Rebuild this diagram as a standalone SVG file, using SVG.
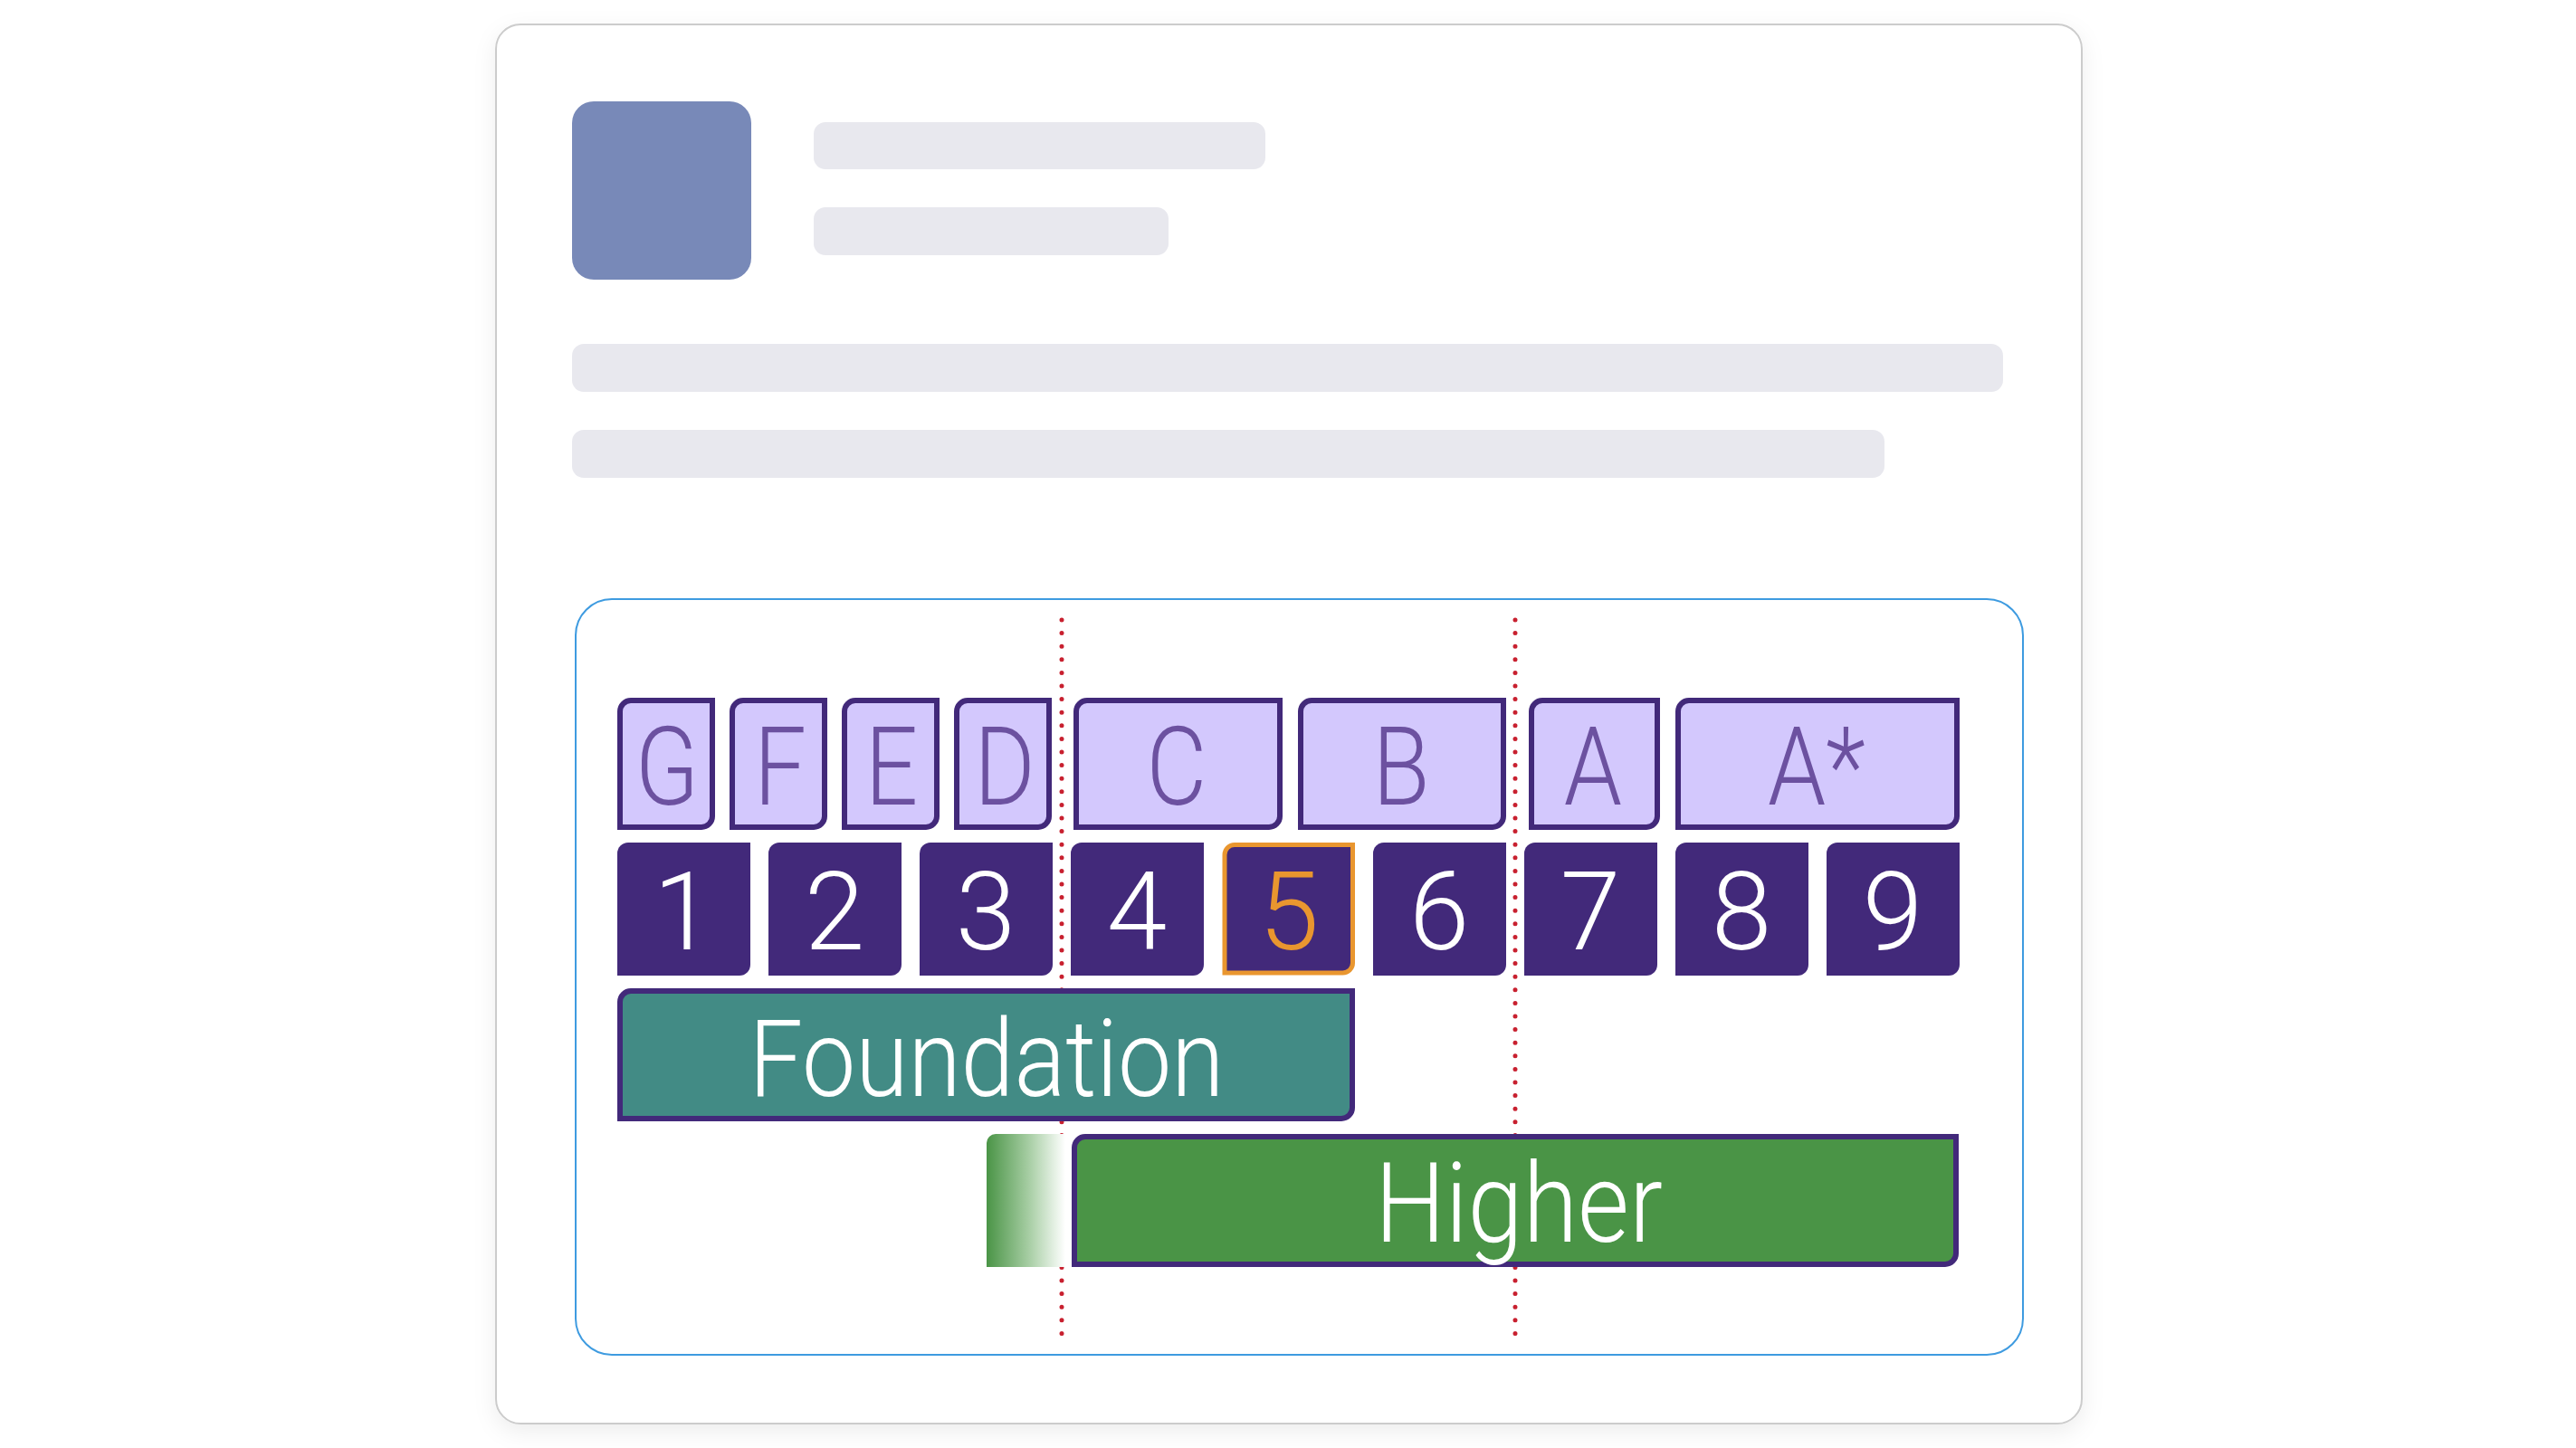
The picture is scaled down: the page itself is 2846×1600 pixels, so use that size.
<svg xmlns="http://www.w3.org/2000/svg" width="2846" height="1600" viewBox="0 0 2846 1600">
<defs>
<style>
.bar{fill:#E8E8EE}
.lbox{fill:#D3C8FD;stroke:#42297A;stroke-width:6}
.ltxt{font-family:Roboto,"Liberation Sans",sans-serif;font-weight:300;font-size:121px;fill:#6C51A0;text-anchor:middle}
.nbox{fill:#42297A}
.ntxt{font-family:Roboto,"Liberation Sans",sans-serif;font-weight:300;font-size:120px;fill:#FFFFFF;text-anchor:middle}
.btxt{font-family:Roboto,"Liberation Sans",sans-serif;font-weight:300;fill:#FFFFFF;text-anchor:middle}
.div{stroke:#C8202F;stroke-width:5;stroke-linecap:round;stroke-dasharray:0 14.6;fill:none}
</style>
<filter id="shadow" x="-5%" y="-5%" width="110%" height="112%">
<feDropShadow dx="0" dy="8" stdDeviation="12" flood-color="#000" flood-opacity="0.07"/>
</filter>
<linearGradient id="fade" x1="0" y1="0" x2="1" y2="0">
<stop offset="0" stop-color="#4A9446"/>
<stop offset="0.55" stop-color="#A9CFA6"/>
<stop offset="1" stop-color="#FFFFFF"/>
</linearGradient>
</defs>
<rect width="2846" height="1600" fill="#FFFFFF"/>
<g id="card">
<rect x="548" y="27" width="1752" height="1546" rx="27" fill="#FFFFFF" stroke="#CCCCCC" stroke-width="2" filter="url(#shadow)"/>
<rect x="632" y="112" width="198" height="197" rx="24" fill="#7889B8"/>
<rect class="bar" x="899" y="135" width="499" height="52" rx="13"/>
<rect class="bar" x="899" y="229" width="392" height="53" rx="13"/>
<rect class="bar" x="632" y="380" width="1581" height="53" rx="13"/>
<rect class="bar" x="632" y="475" width="1450" height="53" rx="13"/>
</g>
<g id="frame">
<rect x="636" y="662" width="1599" height="835" rx="40" fill="#FFFFFF" stroke="#3E9BE0" stroke-width="2"/>
</g>
<g id="connectors">
<line class="div" x1="1173" y1="685" x2="1173" y2="1476"/>
<line class="div" x1="1674" y1="685" x2="1674" y2="1476"/>
</g>
<g id="grade-G"><path class="lbox" d="M697 774H787V902A12 12 0 0 1 775 914H685V786A12 12 0 0 1 697 774Z"/><text class="ltxt" transform="translate(737 889) scale(0.85 1)">G</text></g>
<g id="grade-F"><path class="lbox" d="M821 774H911V902A12 12 0 0 1 899 914H809V786A12 12 0 0 1 821 774Z"/><text class="ltxt" transform="translate(862 889) scale(0.85 1)">F</text></g>
<g id="grade-E"><path class="lbox" d="M945 774H1035V902A12 12 0 0 1 1023 914H933V786A12 12 0 0 1 945 774Z"/><text class="ltxt" transform="translate(985 889) scale(0.85 1)">E</text></g>
<g id="grade-D"><path class="lbox" d="M1069 774H1159V902A12 12 0 0 1 1147 914H1057V786A12 12 0 0 1 1069 774Z"/><text class="ltxt" transform="translate(1110 889) scale(0.85 1)">D</text></g>
<g id="grade-C"><path class="lbox" d="M1201 774H1414V902A12 12 0 0 1 1402 914H1189V786A12 12 0 0 1 1201 774Z"/><text class="ltxt" transform="translate(1300 889) scale(0.85 1)">C</text></g>
<g id="grade-B"><path class="lbox" d="M1449 774H1661V902A12 12 0 0 1 1649 914H1437V786A12 12 0 0 1 1449 774Z"/><text class="ltxt" transform="translate(1548 889) scale(0.85 1)">B</text></g>
<g id="grade-A"><path class="lbox" d="M1704 774H1831V902A12 12 0 0 1 1819 914H1692V786A12 12 0 0 1 1704 774Z"/><text class="ltxt" transform="translate(1760 889) scale(0.85 1)">A</text></g>
<g id="grade-Astar"><path class="lbox" d="M1866 774H2162V902A12 12 0 0 1 2150 914H1854V786A12 12 0 0 1 1866 774Z"/><text class="ltxt" transform="translate(2007 889) scale(0.85 1)">A*</text></g>
<g id="num-1"><path class="nbox" d="M694 931H829V1066A12 12 0 0 1 817 1078H682V943A12 12 0 0 1 694 931Z"/><text class="ntxt" x="755" y="1049">1</text></g>
<g id="num-2"><path class="nbox" d="M861 931H996V1066A12 12 0 0 1 984 1078H849V943A12 12 0 0 1 861 931Z"/><text class="ntxt" x="922" y="1049">2</text></g>
<g id="num-3"><path class="nbox" d="M1028 931H1163V1066A12 12 0 0 1 1151 1078H1016V943A12 12 0 0 1 1028 931Z"/><text class="ntxt" x="1089" y="1049">3</text></g>
<g id="num-4"><path class="nbox" d="M1195 931H1330V1066A12 12 0 0 1 1318 1078H1183V943A12 12 0 0 1 1195 931Z"/><text class="ntxt" x="1256" y="1049">4</text></g>
<g id="num-5"><path d="M1364 933.5H1494.5V1064A11 11 0 0 1 1483.5 1075H1353V944.5A11 11 0 0 1 1364 933.5Z" fill="#42297A" stroke="#E9962F" stroke-width="5"/><text class="ntxt" x="1424" y="1049" fill="#E9962F" style="fill:#E9962F">5</text></g>
<g id="num-6"><path class="nbox" d="M1529 931H1664V1066A12 12 0 0 1 1652 1078H1517V943A12 12 0 0 1 1529 931Z"/><text class="ntxt" x="1590" y="1049">6</text></g>
<g id="num-7"><path class="nbox" d="M1696 931H1831V1066A12 12 0 0 1 1819 1078H1684V943A12 12 0 0 1 1696 931Z"/><text class="ntxt" x="1757" y="1049">7</text></g>
<g id="num-8"><path class="nbox" d="M1863 931H1998V1066A12 12 0 0 1 1986 1078H1851V943A12 12 0 0 1 1863 931Z"/><text class="ntxt" x="1924" y="1049">8</text></g>
<g id="num-9"><path class="nbox" d="M2030 931H2165V1066A12 12 0 0 1 2153 1078H2018V943A12 12 0 0 1 2030 931Z"/><text class="ntxt" x="2091" y="1049">9</text></g>
<g id="foundation"><path d="M697 1095H1494V1224A12 12 0 0 1 1482 1236H685V1107A12 12 0 0 1 697 1095Z" fill="#428B85" stroke="#42297A" stroke-width="6"/><text class="btxt" x="1090" y="1211" font-size="118" textLength="525" lengthAdjust="spacingAndGlyphs">Foundation</text></g>
<g id="higher-fade"><path d="M1100 1253H1177V1400H1090V1263A10 10 0 0 1 1100 1253Z" fill="url(#fade)"/></g>
<g id="higher"><path d="M1199 1256H2161V1385A12 12 0 0 1 2149 1397H1187V1268A12 12 0 0 1 1199 1256Z" fill="#4A9446" stroke="#42297A" stroke-width="6"/><text class="btxt" x="1678" y="1372" font-size="122" textLength="318" lengthAdjust="spacingAndGlyphs">Higher</text></g>
</svg>
